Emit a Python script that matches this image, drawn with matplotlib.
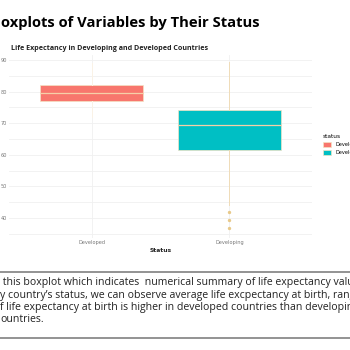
import matplotlib
matplotlib.use("Agg")
import matplotlib.pyplot as plt
from matplotlib.patches import Patch
from matplotlib.lines import Line2D

# data (life expectancy, years)
status = ["Developed", "Developing"]
q1 = [77.1, 61.5]
median = [79.6, 69.4]
q3 = [82.0, 74.3]
whisker_low = [72.0, 44.2]
whisker_high = [89.0, 89.4]
outliers = [[], [41.9, 39.5, 36.9]]
box_colors = ["#F8766D", "#00BFC4"]
whisker_colors = ["#fbf3e6", "#efdcb8"]
yticks = [40, 50, 60, 70, 80, 90]

note_lines = [
    " this boxplot which indicates  numerical summary of life expectancy valu",
    "y country\u2019s status, we can observe average life excpectancy at birth, rang",
    "f life expectancy at birth is higher in developed countries than developin",
    "ountries.",
]

W = H = 350
fig = plt.figure(figsize=(3.5, 3.5), dpi=100)
fig.patch.set_facecolor("white")

def fx(px):
    return px / W

def fy(py):
    return 1 - py / H

# page title and chart title
fig.text(fx(1), fy(27), "oxplots of Variables by Their Status", fontsize=10.6,
         fontweight="bold", family="Open Sans", va="baseline", ha="left")
fig.text(fx(11), fy(48), "Life Expectancy in Developing and Developed Countries",
         fontsize=5.1, fontweight="bold", family="Open Sans", va="center", ha="left",
         color="#222222")

# plot panel
ax = fig.add_axes([fx(9), fy(238), fx(312) - fx(9), fy(55) - fy(238)])
ax.set_facecolor("white")

stats = []
for i in range(len(status)):
    stats.append(dict(q1=q1[i], med=median[i], q3=q3[i], whislo=whisker_low[i],
                      whishi=whisker_high[i], fliers=outliers[i], label=status[i]))

bp = ax.bxp(stats, positions=[1, 2], widths=0.75, patch_artist=True,
            showcaps=False,
            whiskerprops=dict(linewidth=0.7),
            medianprops=dict(color="#f6cfa8", linewidth=0.9),
            boxprops=dict(linewidth=0.5),
            flierprops=dict(marker="o", markersize=1.4, markerfacecolor="#e8c98a",
                            markeredgecolor="#e8c98a"))
for patch, c in zip(bp["boxes"], box_colors):
    patch.set_facecolor(c)
    patch.set_edgecolor("#f3e3c4")
for i, w in enumerate(bp["whiskers"]):
    w.set_color(whisker_colors[i // 2])

ax.set_xlim(0.4, 2.6)
ax.set_ylim(33.7, 91.6)
ax.set_yticks(yticks)
ax.set_yticks([35, 45, 55, 65, 75, 85], minor=True)
ax.set_xticks([1, 2])
ax.set_xticklabels(status)
ax.tick_params(axis="both", which="both", length=0, labelsize=3.6,
               labelcolor="#777777", pad=1.5)
ax.grid(True, which="both", axis="y", color="#f0f0f0", linewidth=0.6)
ax.grid(True, which="major", axis="x", color="#f0f0f0", linewidth=0.6)
ax.set_axisbelow(True)
for s in ax.spines.values():
    s.set_visible(False)
ax.set_xlabel("Status", fontsize=4.3, fontweight="bold", labelpad=2, color="#222222")

# legend
handles = [Patch(facecolor=c, edgecolor="#f3e3c4", linewidth=0.5) for c in box_colors]
fig.legend(handles, status, title="status", loc="upper left",
           bbox_to_anchor=(fx(321), fy(132)), frameon=False, fontsize=3.6,
           title_fontsize=4.2, handlelength=1.6, handleheight=1.1,
           borderaxespad=0, labelspacing=0.6, alignment="left")

# description below the chart
fig.add_artist(Line2D([0, 1], [fy(272), fy(272)], color="#8a8a8a", linewidth=1.3))
fig.add_artist(Line2D([0, 1], [fy(338), fy(338)], color="#8a8a8a", linewidth=1.3))
for i, line in enumerate(note_lines):
    fig.text(fx(0), fy(283 + 12.3 * i), line, fontsize=7.6, family="Open Sans",
             va="center", ha="left", color="#222222")

fig.savefig("out.png", dpi=100)
